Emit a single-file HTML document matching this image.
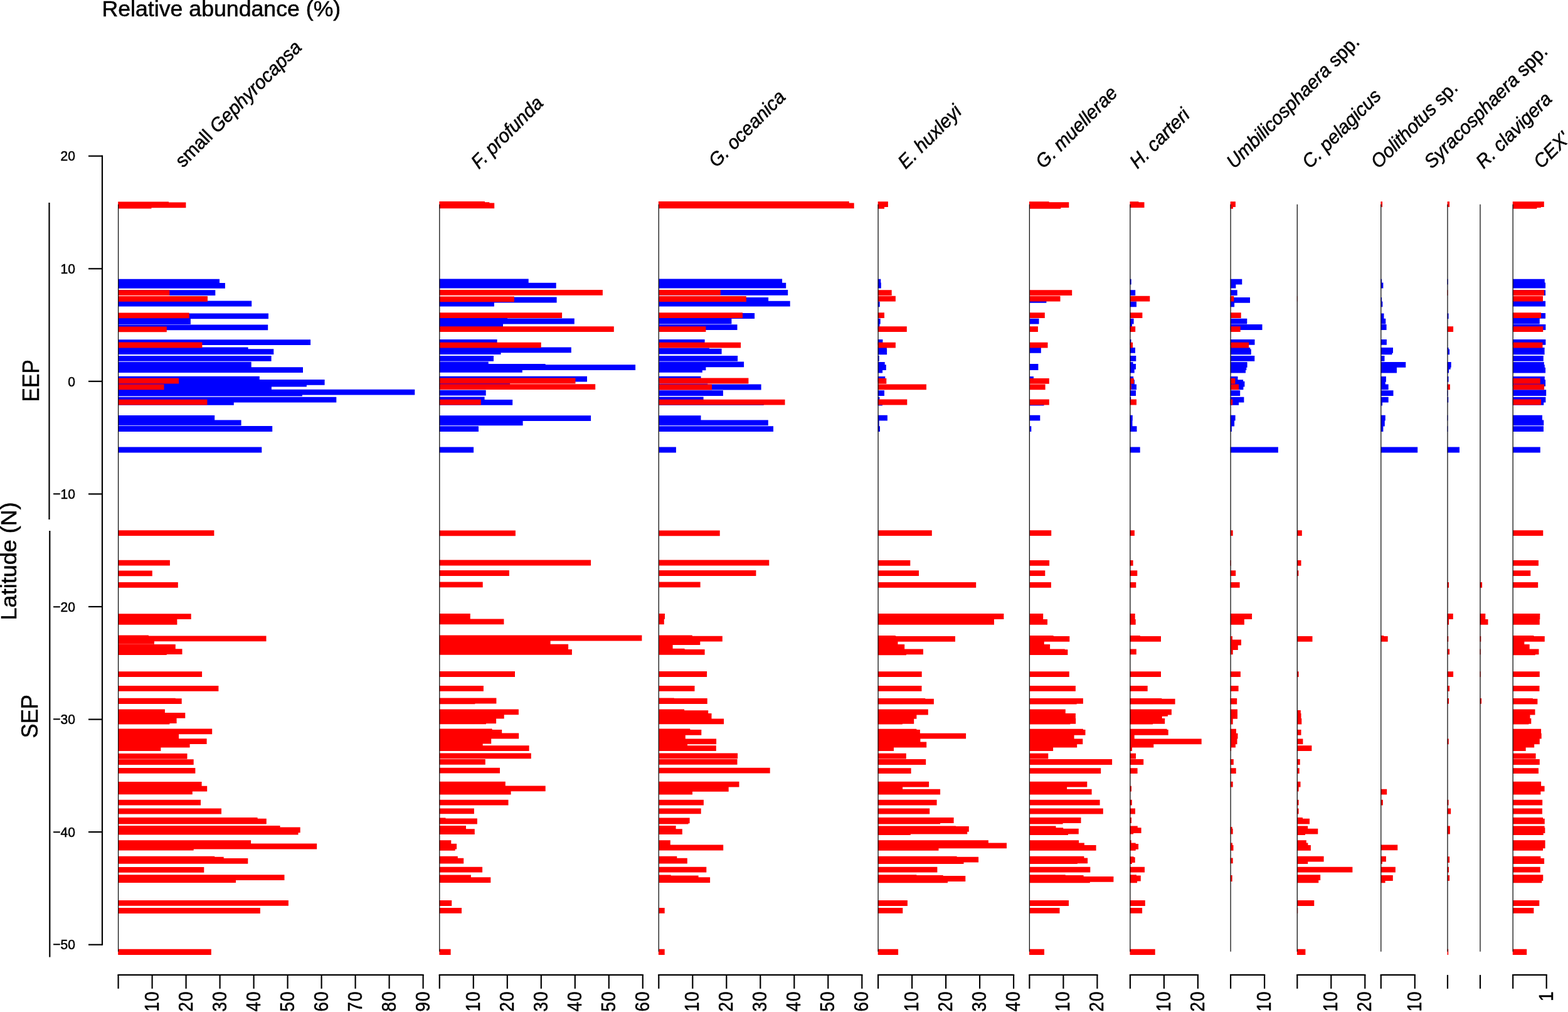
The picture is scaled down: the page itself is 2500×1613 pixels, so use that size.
<!DOCTYPE html>
<html lang="en"><head><meta charset="utf-8"><title>Relative abundance (%) by latitude</title>
<style>html,body{margin:0;padding:0;background:#fff;}body{width:2500px;height:1613px;overflow:hidden;}svg{display:block;}text{font-family:'Liberation Sans', 'DejaVu Sans', sans-serif;fill:#000;stroke:#000;stroke-width:0.55px;}.it{font-style:italic;}</style>
</head><body>
<svg width="2500" height="1613" viewBox="0 0 2500 1613">
<rect x="0" y="0" width="2500" height="1613" fill="#ffffff"/>
<text transform="translate(162.5 25.85) scale(1.008 1)" font-size="35.4">Relative abundance (%)</text>
<g stroke="#000" stroke-width="2.2" fill="none" stroke-linecap="butt">
<path d="M163.0 247.6 V1506.8"/>
<path d="M141.0 248.7 H163.0"/>
<path d="M141.0 428.3 H163.0"/>
<path d="M141.0 607.8 H163.0"/>
<path d="M141.0 787.4 H163.0"/>
<path d="M141.0 967.0 H163.0"/>
<path d="M141.0 1146.6 H163.0"/>
<path d="M141.0 1326.1 H163.0"/>
<path d="M141.0 1505.7 H163.0"/>
<path d="M78.5 323 V828"/>
<path d="M79.3 846 V1525.6"/>
</g>
<text transform="translate(119.9 256.4) scale(0.93 1)" font-size="22.6" text-anchor="end">20</text>
<text transform="translate(119.9 436.0) scale(0.93 1)" font-size="22.6" text-anchor="end">10</text>
<text transform="translate(119.9 615.5) scale(0.93 1)" font-size="22.6" text-anchor="end">0</text>
<text transform="translate(119.9 795.1) scale(0.93 1)" font-size="22.6" text-anchor="end">−10</text>
<text transform="translate(119.9 974.7) scale(0.93 1)" font-size="22.6" text-anchor="end">−20</text>
<text transform="translate(119.9 1154.3) scale(0.93 1)" font-size="22.6" text-anchor="end">−30</text>
<text transform="translate(119.9 1333.8) scale(0.93 1)" font-size="22.6" text-anchor="end">−40</text>
<text transform="translate(119.9 1513.4) scale(0.93 1)" font-size="22.6" text-anchor="end">−50</text>
<text transform="translate(25.8 894.3) rotate(-90) scale(1.03 1)" font-size="35" text-anchor="middle">Latitude (N)</text>
<text transform="translate(62.1 606.8) rotate(-90) scale(0.908 1)" font-size="37" text-anchor="middle">EEP</text>
<text transform="translate(59.8 1141.8) rotate(-90) scale(0.937 1)" font-size="37" text-anchor="middle">SEP</text>
<path fill="#0000ff" d="M188.2 444.8h161.8v8.8h-161.8zM188.2 451.0h170.7v8.8h-170.7zM188.2 462.2h155.1v8.8h-155.1zM188.2 479.6h213.0v8.8h-213.0zM188.2 499.5h239.8v8.8h-239.8zM188.2 508.1h115.7v8.8h-115.7zM188.2 517.4h239.0v8.8h-239.0zM188.2 541.3h306.9v8.8h-306.9zM188.2 553.4h207.4v8.8h-207.4zM188.2 556.3h248.1v8.8h-248.1zM188.2 567.0h244.4v8.8h-244.4zM188.2 576.7h212.5v8.8h-212.5zM188.2 585.3h294.8v8.8h-294.8zM188.2 599.8h225.6v8.8h-225.6zM188.2 604.9h329.4v8.8h-329.4zM188.2 607.8h300.7v8.8h-300.7zM188.2 612.4h244.7v8.8h-244.7zM188.2 620.7h473.1v8.8h-473.1zM188.2 622.8h293.7v8.8h-293.7zM188.2 632.7h348.1v8.8h-348.1zM188.2 637.0h184.6v8.8h-184.6zM188.2 662.0h154.0v8.8h-154.0zM188.2 669.5h196.4v8.8h-196.4zM188.2 679.1h246.0v8.8h-246.0zM188.2 712.6h229.1v8.8h-229.1z"/>
<path fill="#0000ff" d="M700.4 444.6h142.3v8.8h-142.3zM700.4 450.7h186.3v8.8h-186.3zM700.4 473.6h187.2v8.8h-187.2zM700.4 479.8h87.5v8.8h-87.5zM700.4 507.0h108.6v8.8h-108.6zM700.4 507.6h215.4v8.8h-215.4zM700.4 516.4h101.6v8.8h-101.6zM700.4 541.1h92.2v8.8h-92.2zM700.4 553.4h210.4v8.8h-210.4zM700.4 556.3h98.1v8.8h-98.1zM700.4 566.9h86.6v8.8h-86.6zM700.4 576.5h78.4v8.8h-78.4zM700.4 580.1h169.3v8.8h-169.3zM700.4 581.2h312.7v8.8h-312.7zM700.4 585.0h132.4v8.8h-132.4zM700.4 599.7h235.6v8.8h-235.6zM700.4 611.1h112.7v8.8h-112.7zM700.4 621.7h74.3v8.8h-74.3zM700.4 632.6h72.2v8.8h-72.2zM700.4 637.0h116.8v8.8h-116.8zM700.4 662.2h241.7v8.8h-241.7zM700.4 669.5h133.2v8.8h-133.2zM700.4 679.2h62.6v8.8h-62.6zM700.4 712.6h54.7v8.8h-54.7z"/>
<path fill="#0000ff" d="M1049.9 444.6h197.2v8.8h-197.2zM1049.9 450.7h203.3v8.8h-203.3zM1049.9 461.9h206.3v8.8h-206.3zM1049.9 473.9h175.2v8.8h-175.2zM1049.9 479.8h209.8v8.8h-209.8zM1049.9 499.1h153.2v8.8h-153.2zM1049.9 507.6h116.5v8.8h-116.5zM1049.9 517.3h125.6v8.8h-125.6zM1049.9 541.1h73.7v8.8h-73.7zM1049.9 554.5h81.0v8.8h-81.0zM1049.9 555.7h100.7v8.8h-100.7zM1049.9 566.9h126.2v8.8h-126.2zM1049.9 576.5h136.2v8.8h-136.2zM1049.9 581.5h75.5v8.8h-75.5zM1049.9 585.0h69.9v8.8h-69.9zM1049.9 599.7h67.6v8.8h-67.6zM1049.9 611.4h78.4v8.8h-78.4zM1049.9 612.6h163.7v8.8h-163.7zM1049.9 622.3h103.0v8.8h-103.0zM1049.9 632.6h71.7v8.8h-71.7zM1049.9 637.2h167.8v8.8h-167.8zM1049.9 662.2h67.6v8.8h-67.6zM1049.9 669.5h174.9v8.8h-174.9zM1049.9 679.2h183.1v8.8h-183.1zM1049.9 712.6h28.0v8.8h-28.0z"/>
<path fill="#0000ff" d="M1399.7 444.7h4.6v8.8h-4.6zM1399.7 450.6h5.1v8.8h-5.1zM1399.7 480.5h3.0v8.8h-3.0zM1399.7 507.8h4.0v8.8h-4.0zM1399.7 516.6h2.7v8.8h-2.7zM1399.7 541.0h7.7v8.8h-7.7zM1399.7 554.0h14.2v8.8h-14.2zM1399.7 556.4h14.4v8.8h-14.4zM1399.7 567.0h2.0v8.8h-2.0zM1399.7 576.9h11.0v8.8h-11.0zM1399.7 581.3h13.1v8.8h-13.1zM1399.7 585.7h7.4v8.8h-7.4zM1399.7 600.0h11.6v8.8h-11.6zM1399.7 622.3h10.3v8.8h-10.3zM1399.7 632.7h2.7v8.8h-2.7zM1399.7 637.7h7.2v8.8h-7.2zM1399.7 661.8h15.2v8.8h-15.2zM1399.7 670.6h2.0v8.8h-2.0zM1399.7 679.2h3.3v8.8h-3.3z"/>
<path fill="#0000ff" d="M1641.0 474.0h27.4v8.8h-27.4zM1641.0 507.8h15.5v8.8h-15.5zM1641.0 554.0h18.8v8.8h-18.8zM1641.0 580.0h14.4v8.8h-14.4zM1641.0 581.3h14.4v8.8h-14.4zM1641.0 600.0h6.9v8.8h-6.9zM1641.0 637.7h23.5v8.8h-23.5zM1641.0 661.8h17.3v8.8h-17.3zM1641.0 679.2h3.3v8.8h-3.3z"/>
<path fill="#0000ff" d="M1801.5 444.7h2.2v8.8h-2.2zM1801.5 462.3h8.7v8.8h-8.7zM1801.5 480.5h10.5v8.8h-10.5zM1801.5 507.8h6.1v8.8h-6.1zM1801.5 516.6h3.5v8.8h-3.5zM1801.5 541.0h2.0v8.8h-2.0zM1801.5 554.0h8.5v8.8h-8.5zM1801.5 567.0h9.8v8.8h-9.8zM1801.5 576.9h5.1v8.8h-5.1zM1801.5 580.0h9.5v8.8h-9.5zM1801.5 585.7h7.2v8.8h-7.2zM1801.5 600.0h5.6v8.8h-5.6zM1801.5 605.2h7.4v8.8h-7.4zM1801.5 612.5h10.5v8.8h-10.5zM1801.5 622.3h9.5v8.8h-9.5zM1801.5 632.7h1.7v8.8h-1.7zM1801.5 661.8h4.3v8.8h-4.3zM1801.5 670.6h4.0v8.8h-4.0zM1801.5 679.2h11.0v8.8h-11.0zM1801.5 712.6h16.2v8.8h-16.2z"/>
<path fill="#0000ff" d="M1961.7 444.7h18.6v8.8h-18.6zM1961.7 450.6h8.7v8.8h-8.7zM1961.7 462.3h11.0v8.8h-11.0zM1961.7 474.0h31.3v8.8h-31.3zM1961.7 480.5h6.4v8.8h-6.4zM1961.7 507.8h26.6v8.8h-26.6zM1961.7 517.1h50.8v8.8h-50.8zM1961.7 541.0h38.8v8.8h-38.8zM1961.7 554.0h31.6v8.8h-31.6zM1961.7 556.4h33.1v8.8h-33.1zM1961.7 567.0h38.6v8.8h-38.6zM1961.7 576.9h26.9v8.8h-26.9zM1961.7 581.3h25.6v8.8h-25.6zM1961.7 585.7h24.3v8.8h-24.3zM1961.7 600.0h11.8v8.8h-11.8zM1961.7 605.2h20.4v8.8h-20.4zM1961.7 607.8h22.7v8.8h-22.7zM1961.7 612.5h20.7v8.8h-20.7zM1961.7 622.3h15.5v8.8h-15.5zM1961.7 632.7h21.7v8.8h-21.7zM1961.7 636.9h13.4v8.8h-13.4zM1961.7 661.8h7.9v8.8h-7.9zM1961.7 670.6h6.4v8.8h-6.4zM1961.7 679.2h2.2v8.8h-2.2zM1961.7 712.6h76.2v8.8h-76.2z"/>
<path fill="#0000ff" d="M2201.4 444.7h1.7v8.8h-1.7zM2201.4 450.6h4.0v8.8h-4.0zM2201.4 474.0h1.7v8.8h-1.7zM2201.4 480.5h3.0v8.8h-3.0zM2201.4 499.5h5.1v8.8h-5.1zM2201.4 507.8h7.9v8.8h-7.9zM2201.4 517.1h9.2v8.8h-9.2zM2201.4 541.0h9.5v8.8h-9.5zM2201.4 554.0h19.6v8.8h-19.6zM2201.4 556.4h18.1v8.8h-18.1zM2201.4 567.0h6.1v8.8h-6.1zM2201.4 576.9h39.9v8.8h-39.9zM2201.4 585.7h25.6v8.8h-25.6zM2201.4 600.0h8.5v8.8h-8.5zM2201.4 605.2h7.4v8.8h-7.4zM2201.4 612.5h12.3v8.8h-12.3zM2201.4 622.3h20.1v8.8h-20.1zM2201.4 632.7h12.3v8.8h-12.3zM2201.4 637.7h2.7v8.8h-2.7zM2201.4 661.8h7.4v8.8h-7.4zM2201.4 670.6h6.4v8.8h-6.4zM2201.4 679.2h4.0v8.8h-4.0zM2201.4 712.6h58.8v8.8h-58.8z"/>
<path fill="#0000ff" d="M2307.6 444.7h1.2v8.8h-1.2zM2307.6 499.5h2.0v8.8h-2.0zM2307.6 554.0h2.0v8.8h-2.0zM2307.6 556.4h3.5v8.8h-3.5zM2307.6 576.9h6.1v8.8h-6.1zM2307.6 580.0h5.1v8.8h-5.1zM2307.6 585.7h2.5v8.8h-2.5zM2307.6 600.0h2.0v8.8h-2.0zM2307.6 622.3h0.9v8.8h-0.9zM2307.6 632.7h1.7v8.8h-1.7zM2307.6 661.8h0.9v8.8h-0.9zM2307.6 679.2h0.9v8.8h-0.9zM2307.6 712.6h19.4v8.8h-19.4z"/>
<path fill="#0000ff" d="M2411.8 444.7h51.0v8.8h-51.0zM2411.8 450.6h52.3v8.8h-52.3zM2411.8 462.3h52.3v8.8h-52.3zM2411.8 479.7h52.3v8.8h-52.3zM2411.8 499.0h52.3v8.8h-52.3zM2411.8 507.8h43.0v8.8h-43.0zM2411.8 517.1h52.6v8.8h-52.6zM2411.8 541.0h52.6v8.8h-52.6zM2411.8 554.0h50.8v8.8h-50.8zM2411.8 556.4h50.8v8.8h-50.8zM2411.8 567.0h49.0v8.8h-49.0zM2411.8 576.9h50.0v8.8h-50.0zM2411.8 581.3h51.0v8.8h-51.0zM2411.8 585.7h52.3v8.8h-52.3zM2411.8 600.0h51.0v8.8h-51.0zM2411.8 605.2h52.3v8.8h-52.3zM2411.8 607.0h52.3v8.8h-52.3zM2411.8 621.3h53.4v8.8h-53.4zM2411.8 622.3h53.4v8.8h-53.4zM2411.8 632.7h52.6v8.8h-52.6zM2411.8 636.9h49.5v8.8h-49.5zM2411.8 661.8h47.2v8.8h-47.2zM2411.8 669.4h49.5v8.8h-49.5zM2411.8 679.2h49.2v8.8h-49.2zM2411.8 712.6h44.0v8.8h-44.0z"/>
<path fill="#ff0000" d="M188.2 321.4h80.8v8.8h-80.8zM188.2 322.5h108.2v8.8h-108.2zM188.2 323.6h53.2v8.8h-53.2zM188.2 462.2h82.2v8.8h-82.2zM188.2 471.9h142.8v8.8h-142.8zM188.2 498.4h113.5v8.8h-113.5zM188.2 520.4h77.6v8.8h-77.6zM188.2 545.6h134.2v8.8h-134.2zM188.2 602.7h96.9v8.8h-96.9zM188.2 612.4h73.3v8.8h-73.3zM188.2 636.8h142.2v8.8h-142.2zM188.2 845.3h153.2v8.8h-153.2zM188.2 892.8h82.7v8.8h-82.7zM188.2 909.4h54.6v8.8h-54.6zM188.2 927.9h95.6v8.8h-95.6zM188.2 978.3h116.5v8.8h-116.5zM188.2 982.6h94.2v8.8h-94.2zM188.2 986.9h94.2v8.8h-94.2zM188.2 1012.6h48.7v8.8h-48.7zM188.2 1013.4h236.3v8.8h-236.3zM188.2 1018.0h57.8v8.8h-57.8zM188.2 1027.1h91.6v8.8h-91.6zM188.2 1034.3h102.3v8.8h-102.3zM188.2 1035.1h77.6v8.8h-77.6zM188.2 1070.3h133.9v8.8h-133.9zM188.2 1092.9h160.2v8.8h-160.2zM188.2 1112.7h91.6v8.8h-91.6zM188.2 1113.2h101.5v8.8h-101.5zM188.2 1130.4h74.7v8.8h-74.7zM188.2 1136.0h107.1v8.8h-107.1zM188.2 1144.3h93.4v8.8h-93.4zM188.2 1145.7h82.2v8.8h-82.2zM188.2 1161.5h150.0v8.8h-150.0zM188.2 1169.8h96.9v8.8h-96.9zM188.2 1177.3h141.4v8.8h-141.4zM188.2 1182.7h114.4v8.8h-114.4zM188.2 1188.3h68.2v8.8h-68.2zM188.2 1200.9h110.3v8.8h-110.3zM188.2 1210.3h120.5v8.8h-120.5zM188.2 1224.0h123.2v8.8h-123.2zM188.2 1246.0h133.4v8.8h-133.4zM188.2 1252.7h142.0v8.8h-142.0zM188.2 1257.5h118.6v8.8h-118.6zM188.2 1274.7h131.8v8.8h-131.8zM188.2 1288.6h164.8v8.8h-164.8zM188.2 1303.1h222.4v8.8h-222.4zM188.2 1304.7h236.6v8.8h-236.6zM188.2 1315.9h258.3v8.8h-258.3zM188.2 1318.4h290.5v8.8h-290.5zM188.2 1321.6h287.3v8.8h-287.3zM188.2 1339.3h211.9v8.8h-211.9zM188.2 1344.6h317.0v8.8h-317.0zM188.2 1346.8h120.5v8.8h-120.5zM188.2 1364.7h154.0v8.8h-154.0zM188.2 1365.8h168.5v8.8h-168.5zM188.2 1368.0h207.1v8.8h-207.1zM188.2 1381.9h137.1v8.8h-137.1zM188.2 1394.2h265.3v8.8h-265.3zM188.2 1398.3h187.8v8.8h-187.8zM188.2 1435.0h271.7v8.8h-271.7zM188.2 1447.1h226.7v8.8h-226.7zM188.2 1512.7h148.6v9.3h-148.6z"/>
<path fill="#ff0000" d="M700.4 321.1h72.5v8.8h-72.5zM700.4 322.3h79.9v8.8h-79.9zM700.4 323.5h87.8v8.8h-87.8zM700.4 461.9h260.5v8.8h-260.5zM700.4 472.4h119.5v8.8h-119.5zM700.4 498.2h195.7v8.8h-195.7zM700.4 520.2h278.4v8.8h-278.4zM700.4 545.7h162.3v8.8h-162.3zM700.4 602.6h217.1v8.8h-217.1zM700.4 612.3h248.8v8.8h-248.8zM700.4 636.7h66.4v8.8h-66.4zM700.4 845.4h121.5v8.8h-121.5zM700.4 892.6h241.7v8.8h-241.7zM700.4 909.1h111.5v8.8h-111.5zM700.4 927.5h69.3v8.8h-69.3zM700.4 978.0h49.4v8.8h-49.4zM700.4 986.5h103.0v8.8h-103.0zM700.4 1012.6h323.0v8.8h-323.0zM700.4 1017.9h177.2v8.8h-177.2zM700.4 1022.3h177.2v8.8h-177.2zM700.4 1026.7h205.7v8.8h-205.7zM700.4 1034.9h211.5v8.8h-211.5zM700.4 1070.1h120.6v8.8h-120.6zM700.4 1092.9h70.5v8.8h-70.5zM700.4 1112.6h91.0v8.8h-91.0zM700.4 1113.4h57.0v8.8h-57.0zM700.4 1130.4h126.5v8.8h-126.5zM700.4 1136.6h103.3v8.8h-103.3zM700.4 1144.5h90.7v8.8h-90.7zM700.4 1145.4h74.6v8.8h-74.6zM700.4 1161.5h84.3v8.8h-84.3zM700.4 1163.0h99.8v8.8h-99.8zM700.4 1168.6h126.8v8.8h-126.8zM700.4 1176.8h82.8v8.8h-82.8zM700.4 1179.7h69.3v8.8h-69.3zM700.4 1188.2h143.2v8.8h-143.2zM700.4 1200.5h146.4v8.8h-146.4zM700.4 1209.9h73.4v8.8h-73.4zM700.4 1223.7h96.6v8.8h-96.6zM700.4 1245.7h105.4v8.8h-105.4zM700.4 1252.4h169.3v8.8h-169.3zM700.4 1257.7h114.2v8.8h-114.2zM700.4 1274.7h110.1v8.8h-110.1zM700.4 1288.5h55.5v8.8h-55.5zM700.4 1303.5h10.1v8.8h-10.1zM700.4 1304.6h60.5v8.8h-60.5zM700.4 1316.1h42.6v8.8h-42.6zM700.4 1321.3h56.4v8.8h-56.4zM700.4 1339.2h18.9v8.8h-18.9zM700.4 1344.8h27.7v8.8h-27.7zM700.4 1346.9h25.3v8.8h-25.3zM700.4 1364.8h29.4v8.8h-29.4zM700.4 1367.7h38.8v8.8h-38.8zM700.4 1381.8h68.7v8.8h-68.7zM700.4 1394.4h50.5v8.8h-50.5zM700.4 1398.2h81.9v8.8h-81.9zM700.4 1435.1h19.8v8.8h-19.8zM700.4 1446.9h35.6v8.8h-35.6zM700.4 1512.7h18.2v9.3h-18.2z"/>
<path fill="#ff0000" d="M1049.9 321.1h303.9v8.8h-303.9zM1049.9 323.5h311.8v8.8h-311.8zM1049.9 461.9h98.9v8.8h-98.9zM1049.9 472.1h140.0v8.8h-140.0zM1049.9 498.2h134.1v8.8h-134.1zM1049.9 520.2h75.5v8.8h-75.5zM1049.9 545.7h131.2v8.8h-131.2zM1049.9 602.6h143.5v8.8h-143.5zM1049.9 612.6h85.2v8.8h-85.2zM1049.9 636.7h201.6v8.8h-201.6zM1049.9 845.4h97.8v8.8h-97.8zM1049.9 892.6h176.4v8.8h-176.4zM1049.9 909.1h155.5v8.8h-155.5zM1049.9 927.5h66.7v8.8h-66.7zM1049.9 978.0h10.1v8.8h-10.1zM1049.9 986.5h8.9v8.8h-8.9zM1049.9 1012.6h53.8v8.8h-53.8zM1049.9 1013.8h101.9v8.8h-101.9zM1049.9 1019.3h66.4v8.8h-66.4zM1049.9 1025.8h22.7v8.8h-22.7zM1049.9 1033.7h41.7v8.8h-41.7zM1049.9 1034.9h73.7v8.8h-73.7zM1049.9 1070.1h77.2v8.8h-77.2zM1049.9 1092.9h57.6v8.8h-57.6zM1049.9 1112.6h25.0v8.8h-25.0zM1049.9 1113.1h77.8v8.8h-77.8zM1049.9 1130.4h41.2v8.8h-41.2zM1049.9 1132.2h79.3v8.8h-79.3zM1049.9 1136.9h84.6v8.8h-84.6zM1049.9 1145.4h104.2v8.8h-104.2zM1049.9 1161.5h50.5v8.8h-50.5zM1049.9 1163.0h68.4v8.8h-68.4zM1049.9 1171.5h42.9v8.8h-42.9zM1049.9 1177.4h92.2v8.8h-92.2zM1049.9 1185.6h46.1v8.8h-46.1zM1049.9 1188.2h91.9v8.8h-91.9zM1049.9 1200.5h126.2v8.8h-126.2zM1049.9 1209.9h125.6v8.8h-125.6zM1049.9 1223.7h177.8v8.8h-177.8zM1049.9 1245.7h128.6v8.8h-128.6zM1049.9 1253.0h111.8v8.8h-111.8zM1049.9 1257.7h54.1v8.8h-54.1zM1049.9 1274.7h72.0v8.8h-72.0zM1049.9 1288.5h67.8v8.8h-67.8zM1049.9 1303.5h49.7v8.8h-49.7zM1049.9 1304.6h47.6v8.8h-47.6zM1049.9 1316.1h27.7v8.8h-27.7zM1049.9 1321.3h37.9v8.8h-37.9zM1049.9 1339.2h18.9v8.8h-18.9zM1049.9 1346.6h103.3v8.8h-103.3zM1049.9 1364.8h29.4v8.8h-29.4zM1049.9 1367.7h45.9v8.8h-45.9zM1049.9 1381.8h76.4v8.8h-76.4zM1049.9 1394.4h19.8v8.8h-19.8zM1049.9 1395.5h63.7v8.8h-63.7zM1049.9 1398.2h82.2v8.8h-82.2zM1049.9 1446.9h9.8v8.8h-9.8zM1049.9 1512.7h9.8v9.3h-9.8z"/>
<path fill="#ff0000" d="M1399.7 321.3h16.2v8.8h-16.2zM1399.7 323.9h10.3v8.8h-10.3zM1399.7 462.3h22.0v8.8h-22.0zM1399.7 471.7h28.2v8.8h-28.2zM1399.7 498.2h10.3v8.8h-10.3zM1399.7 520.3h46.1v8.8h-46.1zM1399.7 545.7h28.2v8.8h-28.2zM1399.7 602.9h13.6v8.8h-13.6zM1399.7 612.5h77.3v8.8h-77.3zM1399.7 636.6h46.6v8.8h-46.6zM1399.7 845.3h86.1v8.8h-86.1zM1399.7 892.9h51.6v8.8h-51.6zM1399.7 909.2h65.3v8.8h-65.3zM1399.7 927.9h156.5v8.8h-156.5zM1399.7 978.1h200.7v8.8h-200.7zM1399.7 986.9h185.3v8.8h-185.3zM1399.7 1013.1h28.2v8.8h-28.2zM1399.7 1013.9h123.3v8.8h-123.3zM1399.7 1018.6h31.8v8.8h-31.8zM1399.7 1027.1h42.5v8.8h-42.5zM1399.7 1034.4h72.3v8.8h-72.3zM1399.7 1035.5h45.3v8.8h-45.3zM1399.7 1070.3h70.0v8.8h-70.0zM1399.7 1093.0h69.8v8.8h-69.8zM1399.7 1113.0h75.5v8.8h-75.5zM1399.7 1113.8h89.2v8.8h-89.2zM1399.7 1130.6h80.1v8.8h-80.1zM1399.7 1136.9h61.7v8.8h-61.7zM1399.7 1144.9h57.5v8.8h-57.5zM1399.7 1145.7h39.1v8.8h-39.1zM1399.7 1161.8h61.7v8.8h-61.7zM1399.7 1162.9h67.2v8.8h-67.2zM1399.7 1168.8h140.4v8.8h-140.4zM1399.7 1177.4h67.7v8.8h-67.7zM1399.7 1182.6h77.5v8.8h-77.5zM1399.7 1188.3h25.3v8.8h-25.3zM1399.7 1200.8h45.1v8.8h-45.1zM1399.7 1210.1h76.5v8.8h-76.5zM1399.7 1224.2h52.9v8.8h-52.9zM1399.7 1245.7h81.4v8.8h-81.4zM1399.7 1251.4h39.4v8.8h-39.4zM1399.7 1257.7h99.4v8.8h-99.4zM1399.7 1274.8h93.9v8.8h-93.9zM1399.7 1288.6h82.5v8.8h-82.5zM1399.7 1303.1h120.9v8.8h-120.9zM1399.7 1304.7h99.4v8.8h-99.4zM1399.7 1316.4h124.3v8.8h-124.3zM1399.7 1316.9h145.1v8.8h-145.1zM1399.7 1320.8h142.5v8.8h-142.5zM1399.7 1322.1h52.1v8.8h-52.1zM1399.7 1339.2h176.2v8.8h-176.2zM1399.7 1343.4h205.3v8.8h-205.3zM1399.7 1347.0h96.8v8.8h-96.8zM1399.7 1364.7h125.9v8.8h-125.9zM1399.7 1365.7h160.4v8.8h-160.4zM1399.7 1368.1h136.8v8.8h-136.8zM1399.7 1381.8h94.7v8.8h-94.7zM1399.7 1394.3h61.7v8.8h-61.7zM1399.7 1395.1h104.0v8.8h-104.0zM1399.7 1396.1h139.6v8.8h-139.6zM1399.7 1398.4h111.3v8.8h-111.3zM1399.7 1435.1h47.2v8.8h-47.2zM1399.7 1447.0h39.6v8.8h-39.6zM1399.7 1512.7h32.4v9.3h-32.4z"/>
<path fill="#ff0000" d="M1641.0 321.3h31.6v8.8h-31.6zM1641.0 322.3h63.3v8.8h-63.3zM1641.0 323.9h50.3v8.8h-50.3zM1641.0 462.3h68.2v8.8h-68.2zM1641.0 471.7h49.5v8.8h-49.5zM1641.0 498.2h24.8v8.8h-24.8zM1641.0 520.3h13.9v8.8h-13.9zM1641.0 545.7h29.5v8.8h-29.5zM1641.0 602.9h31.8v8.8h-31.8zM1641.0 612.5h25.6v8.8h-25.6zM1641.0 636.6h31.8v8.8h-31.8zM1641.0 845.3h35.2v8.8h-35.2zM1641.0 892.9h32.1v8.8h-32.1zM1641.0 909.2h25.3v8.8h-25.3zM1641.0 927.9h34.9v8.8h-34.9zM1641.0 978.1h22.2v8.8h-22.2zM1641.0 986.9h29.0v8.8h-29.0zM1641.0 1012.9h38.6v8.8h-38.6zM1641.0 1013.9h64.3v8.8h-64.3zM1641.0 1018.6h23.8v8.8h-23.8zM1641.0 1027.1h33.1v8.8h-33.1zM1641.0 1034.4h56.8v8.8h-56.8zM1641.0 1035.2h61.4v8.8h-61.4zM1641.0 1070.3h63.8v8.8h-63.8zM1641.0 1093.0h73.9v8.8h-73.9zM1641.0 1113.0h85.9v8.8h-85.9zM1641.0 1113.8h75.7v8.8h-75.7zM1641.0 1130.6h57.8v8.8h-57.8zM1641.0 1136.9h73.9v8.8h-73.9zM1641.0 1144.9h74.2v8.8h-74.2zM1641.0 1145.7h65.3v8.8h-65.3zM1641.0 1161.8h85.9v8.8h-85.9zM1641.0 1162.9h89.5v8.8h-89.5zM1641.0 1168.8h71.6v8.8h-71.6zM1641.0 1177.4h85.3v8.8h-85.3zM1641.0 1182.6h76.2v8.8h-76.2zM1641.0 1188.3h38.1v8.8h-38.1zM1641.0 1200.8h30.3v8.8h-30.3zM1641.0 1210.1h132.1v8.8h-132.1zM1641.0 1224.2h114.2v8.8h-114.2zM1641.0 1245.7h92.3v8.8h-92.3zM1641.0 1251.4h60.1v8.8h-60.1zM1641.0 1257.7h99.6v8.8h-99.6zM1641.0 1274.8h112.6v8.8h-112.6zM1641.0 1288.6h117.8v8.8h-117.8zM1641.0 1303.1h82.5v8.8h-82.5zM1641.0 1304.7h53.6v8.8h-53.6zM1641.0 1316.4h42.5v8.8h-42.5zM1641.0 1319.2h54.2v8.8h-54.2zM1641.0 1320.8h78.8v8.8h-78.8zM1641.0 1322.1h62.0v8.8h-62.0zM1641.0 1339.2h79.1v8.8h-79.1zM1641.0 1343.4h87.9v8.8h-87.9zM1641.0 1347.0h106.6v8.8h-106.6zM1641.0 1364.7h87.4v8.8h-87.4zM1641.0 1367.5h93.1v8.8h-93.1zM1641.0 1368.1h76.8v8.8h-76.8zM1641.0 1381.8h97.3v8.8h-97.3zM1641.0 1394.3h57.8v8.8h-57.8zM1641.0 1395.1h86.6v8.8h-86.6zM1641.0 1396.9h134.4v8.8h-134.4zM1641.0 1398.4h96.8v8.8h-96.8zM1641.0 1435.1h63.0v8.8h-63.0zM1641.0 1447.0h48.5v8.8h-48.5zM1641.0 1512.7h24.0v9.3h-24.0z"/>
<path fill="#ff0000" d="M1801.5 321.3h13.9v8.8h-13.9zM1801.5 322.3h23.0v8.8h-23.0zM1801.5 471.7h31.8v8.8h-31.8zM1801.5 498.2h19.9v8.8h-19.9zM1801.5 520.3h8.7v8.8h-8.7zM1801.5 545.7h4.6v8.8h-4.6zM1801.5 602.9h6.4v8.8h-6.4zM1801.5 612.5h2.2v8.8h-2.2zM1801.5 636.6h10.5v8.8h-10.5zM1801.5 845.3h7.4v8.8h-7.4zM1801.5 892.9h5.1v8.8h-5.1zM1801.5 909.2h11.8v8.8h-11.8zM1801.5 927.9h9.8v8.8h-9.8zM1801.5 978.1h8.2v8.8h-8.2zM1801.5 986.9h9.2v8.8h-9.2zM1801.5 1013.1h16.5v8.8h-16.5zM1801.5 1013.9h49.5v8.8h-49.5zM1801.5 1034.4h10.3v8.8h-10.3zM1801.5 1070.3h49.5v8.8h-49.5zM1801.5 1093.0h28.2v8.8h-28.2zM1801.5 1113.0h50.8v8.8h-50.8zM1801.5 1113.8h72.1v8.8h-72.1zM1801.5 1130.6h66.4v8.8h-66.4zM1801.5 1133.0h60.4v8.8h-60.4zM1801.5 1136.9h51.3v8.8h-51.3zM1801.5 1144.9h55.7v8.8h-55.7zM1801.5 1145.7h36.5v8.8h-36.5zM1801.5 1161.8h59.1v8.8h-59.1zM1801.5 1162.9h61.2v8.8h-61.2zM1801.5 1168.8h7.2v8.8h-7.2zM1801.5 1177.4h114.2v8.8h-114.2zM1801.5 1182.6h37.8v8.8h-37.8zM1801.5 1188.3h3.5v8.8h-3.5zM1801.5 1200.8h9.5v8.8h-9.5zM1801.5 1210.1h21.7v8.8h-21.7zM1801.5 1224.2h12.1v8.8h-12.1zM1801.5 1252.7h2.5v8.8h-2.5zM1801.5 1274.8h3.3v8.8h-3.3zM1801.5 1288.6h8.5v8.8h-8.5zM1801.5 1303.1h2.5v8.8h-2.5zM1801.5 1316.4h12.3v8.8h-12.3zM1801.5 1319.2h18.1v8.8h-18.1zM1801.5 1320.8h5.6v8.8h-5.6zM1801.5 1339.2h2.2v8.8h-2.2zM1801.5 1343.4h9.2v8.8h-9.2zM1801.5 1344.9h13.6v8.8h-13.6zM1801.5 1347.0h9.2v8.8h-9.2zM1801.5 1365.2h6.1v8.8h-6.1zM1801.5 1366.2h8.2v8.8h-8.2zM1801.5 1368.1h3.5v8.8h-3.5zM1801.5 1381.8h23.5v8.8h-23.5zM1801.5 1394.3h10.5v8.8h-10.5zM1801.5 1395.6h17.3v8.8h-17.3zM1801.5 1398.4h11.6v8.8h-11.6zM1801.5 1435.1h24.3v8.8h-24.3zM1801.5 1447.0h19.6v8.8h-19.6zM1801.5 1512.7h40.2v9.3h-40.2z"/>
<path fill="#ff0000" d="M1961.7 321.3h8.2v8.8h-8.2zM1961.7 323.9h4.3v8.8h-4.3zM1961.7 471.7h5.6v8.8h-5.6zM1961.7 498.2h17.0v8.8h-17.0zM1961.7 520.3h16.0v8.8h-16.0zM1961.7 545.7h29.5v8.8h-29.5zM1961.7 602.9h7.7v8.8h-7.7zM1961.7 612.5h13.4v8.8h-13.4zM1961.7 636.6h3.5v8.8h-3.5zM1961.7 845.3h4.0v8.8h-4.0zM1961.7 892.9h1.2v8.8h-1.2zM1961.7 909.2h8.5v8.8h-8.5zM1961.7 927.9h14.9v8.8h-14.9zM1961.7 978.1h34.4v8.8h-34.4zM1961.7 986.9h22.2v8.8h-22.2zM1961.7 1013.9h3.3v8.8h-3.3zM1961.7 1019.6h17.3v8.8h-17.3zM1961.7 1027.1h12.1v8.8h-12.1zM1961.7 1034.4h4.0v8.8h-4.0zM1961.7 1070.3h16.2v8.8h-16.2zM1961.7 1093.0h12.9v8.8h-12.9zM1961.7 1113.0h10.5v8.8h-10.5zM1961.7 1113.8h10.5v8.8h-10.5zM1961.7 1130.6h11.3v8.8h-11.3zM1961.7 1136.9h11.3v8.8h-11.3zM1961.7 1145.7h4.0v8.8h-4.0zM1961.7 1161.8h9.2v8.8h-9.2zM1961.7 1168.8h11.8v8.8h-11.8zM1961.7 1177.4h10.8v8.8h-10.8zM1961.7 1182.6h8.2v8.8h-8.2zM1961.7 1188.3h1.4v8.8h-1.4zM1961.7 1210.1h5.1v8.8h-5.1zM1961.7 1224.2h9.0v8.8h-9.0zM1961.7 1245.7h4.0v8.8h-4.0zM1961.7 1317.9h3.0v8.8h-3.0zM1961.7 1320.8h4.0v8.8h-4.0zM1961.7 1343.4h3.3v8.8h-3.3zM1961.7 1347.0h4.8v8.8h-4.8zM1961.7 1367.5h4.0v8.8h-4.0zM1961.7 1395.1h3.0v8.8h-3.0zM1961.7 1396.1h3.0v8.8h-3.0z"/>
<path fill="#ff0000" d="M2067.9 471.7h1.2v8.8h-1.2zM2067.9 845.3h7.9v8.8h-7.9zM2067.9 892.9h6.6v8.8h-6.6zM2067.9 909.2h2.5v8.8h-2.5zM2067.9 1013.9h24.6v8.8h-24.6zM2067.9 1070.3h2.7v8.8h-2.7zM2067.9 1131.9h5.9v8.8h-5.9zM2067.9 1136.9h6.6v8.8h-6.6zM2067.9 1144.9h7.4v8.8h-7.4zM2067.9 1145.7h7.4v8.8h-7.4zM2067.9 1162.9h6.6v8.8h-6.6zM2067.9 1177.4h9.5v8.8h-9.5zM2067.9 1188.3h23.5v8.8h-23.5zM2067.9 1210.1h4.8v8.8h-4.8zM2067.9 1224.2h3.8v8.8h-3.8zM2067.9 1245.7h5.6v8.8h-5.6zM2067.9 1252.7h2.7v8.8h-2.7zM2067.9 1274.8h2.7v8.8h-2.7zM2067.9 1288.6h2.7v8.8h-2.7zM2067.9 1303.1h9.0v8.8h-9.0zM2067.9 1304.7h20.1v8.8h-20.1zM2067.9 1316.4h17.3v8.8h-17.3zM2067.9 1320.8h33.4v8.8h-33.4zM2067.9 1322.1h13.1v8.8h-13.1zM2067.9 1339.2h14.9v8.8h-14.9zM2067.9 1343.4h17.5v8.8h-17.5zM2067.9 1347.0h22.0v8.8h-22.0zM2067.9 1364.7h42.7v8.8h-42.7zM2067.9 1368.1h17.3v8.8h-17.3zM2067.9 1381.8h88.5v8.8h-88.5zM2067.9 1394.3h37.3v8.8h-37.3zM2067.9 1398.4h34.4v8.8h-34.4zM2067.9 1435.1h27.4v8.8h-27.4zM2067.9 1447.0h1.4v8.8h-1.4zM2067.9 1512.7h13.5v9.3h-13.5z"/>
<path fill="#ff0000" d="M2201.4 321.3h2.7v8.8h-2.7zM2201.4 1012.9h4.8v8.8h-4.8zM2201.4 1013.9h11.3v8.8h-11.3zM2201.4 1257.7h9.8v8.8h-9.8zM2201.4 1274.8h3.5v8.8h-3.5zM2201.4 1346.5h26.9v8.8h-26.9zM2201.4 1364.7h8.5v8.8h-8.5zM2201.4 1368.1h2.5v8.8h-2.5zM2201.4 1381.8h23.5v8.8h-23.5zM2201.4 1395.1h19.4v8.8h-19.4zM2201.4 1398.4h7.2v8.8h-7.2z"/>
<path fill="#ff0000" d="M2307.6 321.3h3.5v8.8h-3.5zM2307.6 462.3h0.9v8.8h-0.9zM2307.6 520.3h9.5v8.8h-9.5zM2307.6 612.5h4.3v8.8h-4.3zM2307.6 927.9h2.5v8.8h-2.5zM2307.6 978.1h9.2v8.8h-9.2zM2307.6 986.9h2.5v8.8h-2.5zM2307.6 1013.9h1.7v8.8h-1.7zM2307.6 1034.4h3.5v8.8h-3.5zM2307.6 1070.3h9.5v8.8h-9.5zM2307.6 1093.0h3.5v8.8h-3.5zM2307.6 1113.0h2.5v8.8h-2.5zM2307.6 1177.4h2.2v8.8h-2.2zM2307.6 1274.8h2.0v8.8h-2.0zM2307.6 1288.6h5.6v8.8h-5.6zM2307.6 1316.4h4.3v8.8h-4.3zM2307.6 1320.8h4.3v8.8h-4.3zM2307.6 1365.2h3.5v8.8h-3.5zM2307.6 1366.2h3.5v8.8h-3.5zM2307.6 1381.8h2.5v8.8h-2.5zM2307.6 1395.1h3.5v8.8h-3.5zM2307.6 1512.7h1.6v9.3h-1.6z"/>
<path fill="#ff0000" d="M2359.6 927.9h3.5v8.8h-3.5zM2359.6 978.1h8.7v8.8h-8.7zM2359.6 986.9h12.9v8.8h-12.9zM2359.6 1013.9h1.7v8.8h-1.7zM2359.6 1034.4h1.2v8.8h-1.2zM2359.6 1070.3h1.2v8.8h-1.2zM2359.6 1113.0h2.5v8.8h-2.5z"/>
<path fill="#ff0000" d="M2411.8 321.3h50.0v8.8h-50.0zM2411.8 322.3h45.1v8.8h-45.1zM2411.8 323.9h38.6v8.8h-38.6zM2411.8 462.3h50.3v8.8h-50.3zM2411.8 471.7h48.2v8.8h-48.2zM2411.8 498.2h45.3v8.8h-45.3zM2411.8 520.3h48.5v8.8h-48.5zM2411.8 545.7h47.7v8.8h-47.7zM2411.8 602.9h44.0v8.8h-44.0zM2411.8 612.5h50.3v8.8h-50.3zM2411.8 636.6h45.3v8.8h-45.3zM2411.8 845.3h48.5v8.8h-48.5zM2411.8 892.9h41.2v8.8h-41.2zM2411.8 909.2h28.5v8.8h-28.5zM2411.8 927.9h40.4v8.8h-40.4zM2411.8 978.1h43.5v8.8h-43.5zM2411.8 986.9h43.0v8.8h-43.0zM2411.8 1012.9h33.6v8.8h-33.6zM2411.8 1013.9h51.0v8.8h-51.0zM2411.8 1018.6h18.6v8.8h-18.6zM2411.8 1027.1h26.9v8.8h-26.9zM2411.8 1034.4h41.7v8.8h-41.7zM2411.8 1035.5h36.0v8.8h-36.0zM2411.8 1070.3h43.0v8.8h-43.0zM2411.8 1093.0h42.7v8.8h-42.7zM2411.8 1113.0h32.1v8.8h-32.1zM2411.8 1113.8h39.6v8.8h-39.6zM2411.8 1130.6h35.7v8.8h-35.7zM2411.8 1136.9h27.7v8.8h-27.7zM2411.8 1144.9h29.5v8.8h-29.5zM2411.8 1145.7h25.6v8.8h-25.6zM2411.8 1161.8h45.3v8.8h-45.3zM2411.8 1168.8h45.9v8.8h-45.9zM2411.8 1177.4h43.0v8.8h-43.0zM2411.8 1182.6h34.4v8.8h-34.4zM2411.8 1188.3h20.9v8.8h-20.9zM2411.8 1200.8h36.8v8.8h-36.8zM2411.8 1210.1h43.0v8.8h-43.0zM2411.8 1224.2h41.2v8.8h-41.2zM2411.8 1245.7h45.3v8.8h-45.3zM2411.8 1252.7h50.8v8.8h-50.8zM2411.8 1257.7h44.6v8.8h-44.6zM2411.8 1274.8h47.4v8.8h-47.4zM2411.8 1288.6h47.2v8.8h-47.2zM2411.8 1303.1h48.2v8.8h-48.2zM2411.8 1304.7h51.0v8.8h-51.0zM2411.8 1316.4h50.8v8.8h-50.8zM2411.8 1319.2h51.6v8.8h-51.6zM2411.8 1322.1h49.0v8.8h-49.0zM2411.8 1339.2h51.8v8.8h-51.8zM2411.8 1343.4h51.8v8.8h-51.8zM2411.8 1347.0h48.2v8.8h-48.2zM2411.8 1364.7h44.6v8.8h-44.6zM2411.8 1368.1h50.3v8.8h-50.3zM2411.8 1381.8h44.0v8.8h-44.0zM2411.8 1394.3h48.5v8.8h-48.5zM2411.8 1395.3h48.5v8.8h-48.5zM2411.8 1398.4h46.4v8.8h-46.4zM2411.8 1435.1h42.5v8.8h-42.5zM2411.8 1447.0h33.6v8.8h-33.6zM2411.8 1512.7h22.4v9.3h-22.4z"/>
<g stroke="#111" stroke-width="1.3" fill="none">
<path d="M188.6 325.7 V1516.7"/>
<path d="M700.8 325.7 V1516.7"/>
<path d="M1050.3 325.7 V1516.7"/>
<path d="M1400.1 325.7 V1516.7"/>
<path d="M1641.4 325.7 V1516.7"/>
<path d="M1801.9 325.7 V1516.7"/>
<path d="M1962.1 325.7 V1516.7"/>
<path d="M2068.3 325.7 V1516.7"/>
<path d="M2201.8 325.7 V1516.7"/>
<path d="M2308.0 325.7 V1516.7"/>
<path d="M2360.0 325.7 V1516.7"/>
<path d="M2412.2 325.7 V1516.7"/>
</g>
<g stroke="#000" stroke-width="2.2" fill="none">
<path d="M187.5 1553.9 H675.7"/>
<path d="M188.6 1553.9 V1575.8"/>
<path d="M242.6 1553.9 V1575.8"/>
<path d="M296.6 1553.9 V1575.8"/>
<path d="M350.6 1553.9 V1575.8"/>
<path d="M404.6 1553.9 V1575.8"/>
<path d="M458.6 1553.9 V1575.8"/>
<path d="M512.6 1553.9 V1575.8"/>
<path d="M566.6 1553.9 V1575.8"/>
<path d="M620.6 1553.9 V1575.8"/>
<path d="M674.6 1553.9 V1575.8"/>
<path d="M699.7 1553.9 H1025.9"/>
<path d="M700.8 1553.9 V1575.8"/>
<path d="M754.8 1553.9 V1575.8"/>
<path d="M808.8 1553.9 V1575.8"/>
<path d="M862.8 1553.9 V1575.8"/>
<path d="M916.8 1553.9 V1575.8"/>
<path d="M970.8 1553.9 V1575.8"/>
<path d="M1024.8 1553.9 V1575.8"/>
<path d="M1049.2 1553.9 H1375.4"/>
<path d="M1050.3 1553.9 V1575.8"/>
<path d="M1104.3 1553.9 V1575.8"/>
<path d="M1158.3 1553.9 V1575.8"/>
<path d="M1212.3 1553.9 V1575.8"/>
<path d="M1266.3 1553.9 V1575.8"/>
<path d="M1320.3 1553.9 V1575.8"/>
<path d="M1374.3 1553.9 V1575.8"/>
<path d="M1399.0 1553.9 H1617.2"/>
<path d="M1400.1 1553.9 V1575.8"/>
<path d="M1454.1 1553.9 V1575.8"/>
<path d="M1508.1 1553.9 V1575.8"/>
<path d="M1562.1 1553.9 V1575.8"/>
<path d="M1616.1 1553.9 V1575.8"/>
<path d="M1640.3 1553.9 H1750.5"/>
<path d="M1641.4 1553.9 V1575.8"/>
<path d="M1695.4 1553.9 V1575.8"/>
<path d="M1749.4 1553.9 V1575.8"/>
<path d="M1800.8 1553.9 H1911.0"/>
<path d="M1801.9 1553.9 V1575.8"/>
<path d="M1855.9 1553.9 V1575.8"/>
<path d="M1909.9 1553.9 V1575.8"/>
<path d="M1961.0 1553.9 H2017.2"/>
<path d="M1962.1 1553.9 V1575.8"/>
<path d="M2016.1 1553.9 V1575.8"/>
<path d="M2067.2 1553.9 H2177.4"/>
<path d="M2068.3 1553.9 V1575.8"/>
<path d="M2122.3 1553.9 V1575.8"/>
<path d="M2176.3 1553.9 V1575.8"/>
<path d="M2200.7 1553.9 H2256.9"/>
<path d="M2201.8 1553.9 V1575.8"/>
<path d="M2255.8 1553.9 V1575.8"/>
<path d="M2308.0 1553.9 V1575.8"/>
<path d="M2360.0 1553.9 V1575.8"/>
<path d="M2411.1 1553.9 H2466.8"/>
<path d="M2412.2 1553.9 V1575.8"/>
<path d="M2465.7 1553.9 V1575.8"/>
</g>
<text transform="translate(252.5 1579.5) rotate(-90) scale(0.915 1)" font-size="30.55" letter-spacing="1.1" text-anchor="end">10</text>
<text transform="translate(306.5 1579.5) rotate(-90) scale(0.915 1)" font-size="30.55" letter-spacing="1.1" text-anchor="end">20</text>
<text transform="translate(360.5 1579.5) rotate(-90) scale(0.915 1)" font-size="30.55" letter-spacing="1.1" text-anchor="end">30</text>
<text transform="translate(414.5 1579.5) rotate(-90) scale(0.915 1)" font-size="30.55" letter-spacing="1.1" text-anchor="end">40</text>
<text transform="translate(468.5 1579.5) rotate(-90) scale(0.915 1)" font-size="30.55" letter-spacing="1.1" text-anchor="end">50</text>
<text transform="translate(522.5 1579.5) rotate(-90) scale(0.915 1)" font-size="30.55" letter-spacing="1.1" text-anchor="end">60</text>
<text transform="translate(576.5 1579.5) rotate(-90) scale(0.915 1)" font-size="30.55" letter-spacing="1.1" text-anchor="end">70</text>
<text transform="translate(630.5 1579.5) rotate(-90) scale(0.915 1)" font-size="30.55" letter-spacing="1.1" text-anchor="end">80</text>
<text transform="translate(684.5 1579.5) rotate(-90) scale(0.915 1)" font-size="30.55" letter-spacing="1.1" text-anchor="end">90</text>
<text transform="translate(764.7 1579.5) rotate(-90) scale(0.915 1)" font-size="30.55" letter-spacing="1.1" text-anchor="end">10</text>
<text transform="translate(818.7 1579.5) rotate(-90) scale(0.915 1)" font-size="30.55" letter-spacing="1.1" text-anchor="end">20</text>
<text transform="translate(872.7 1579.5) rotate(-90) scale(0.915 1)" font-size="30.55" letter-spacing="1.1" text-anchor="end">30</text>
<text transform="translate(926.7 1579.5) rotate(-90) scale(0.915 1)" font-size="30.55" letter-spacing="1.1" text-anchor="end">40</text>
<text transform="translate(980.7 1579.5) rotate(-90) scale(0.915 1)" font-size="30.55" letter-spacing="1.1" text-anchor="end">50</text>
<text transform="translate(1034.7 1579.5) rotate(-90) scale(0.915 1)" font-size="30.55" letter-spacing="1.1" text-anchor="end">60</text>
<text transform="translate(1114.2 1579.5) rotate(-90) scale(0.915 1)" font-size="30.55" letter-spacing="1.1" text-anchor="end">10</text>
<text transform="translate(1168.2 1579.5) rotate(-90) scale(0.915 1)" font-size="30.55" letter-spacing="1.1" text-anchor="end">20</text>
<text transform="translate(1222.2 1579.5) rotate(-90) scale(0.915 1)" font-size="30.55" letter-spacing="1.1" text-anchor="end">30</text>
<text transform="translate(1276.2 1579.5) rotate(-90) scale(0.915 1)" font-size="30.55" letter-spacing="1.1" text-anchor="end">40</text>
<text transform="translate(1330.2 1579.5) rotate(-90) scale(0.915 1)" font-size="30.55" letter-spacing="1.1" text-anchor="end">50</text>
<text transform="translate(1384.2 1579.5) rotate(-90) scale(0.915 1)" font-size="30.55" letter-spacing="1.1" text-anchor="end">60</text>
<text transform="translate(1464.0 1579.5) rotate(-90) scale(0.915 1)" font-size="30.55" letter-spacing="1.1" text-anchor="end">10</text>
<text transform="translate(1518.0 1579.5) rotate(-90) scale(0.915 1)" font-size="30.55" letter-spacing="1.1" text-anchor="end">20</text>
<text transform="translate(1572.0 1579.5) rotate(-90) scale(0.915 1)" font-size="30.55" letter-spacing="1.1" text-anchor="end">30</text>
<text transform="translate(1626.0 1579.5) rotate(-90) scale(0.915 1)" font-size="30.55" letter-spacing="1.1" text-anchor="end">40</text>
<text transform="translate(1705.3 1579.5) rotate(-90) scale(0.915 1)" font-size="30.55" letter-spacing="1.1" text-anchor="end">10</text>
<text transform="translate(1759.3 1579.5) rotate(-90) scale(0.915 1)" font-size="30.55" letter-spacing="1.1" text-anchor="end">20</text>
<text transform="translate(1865.8 1579.5) rotate(-90) scale(0.915 1)" font-size="30.55" letter-spacing="1.1" text-anchor="end">10</text>
<text transform="translate(1919.8 1579.5) rotate(-90) scale(0.915 1)" font-size="30.55" letter-spacing="1.1" text-anchor="end">20</text>
<text transform="translate(2026.0 1579.5) rotate(-90) scale(0.915 1)" font-size="30.55" letter-spacing="1.1" text-anchor="end">10</text>
<text transform="translate(2132.2 1579.5) rotate(-90) scale(0.915 1)" font-size="30.55" letter-spacing="1.1" text-anchor="end">10</text>
<text transform="translate(2186.2 1579.5) rotate(-90) scale(0.915 1)" font-size="30.55" letter-spacing="1.1" text-anchor="end">20</text>
<text transform="translate(2265.7 1579.5) rotate(-90) scale(0.915 1)" font-size="30.55" letter-spacing="1.1" text-anchor="end">10</text>
<text transform="translate(2475.6 1579.5) rotate(-90) scale(0.915 1)" font-size="30.55" letter-spacing="1.1" text-anchor="end">1</text>
<text transform="translate(291.8 268.2) rotate(-45) scale(0.968 1)" font-size="30.6"><tspan>small </tspan><tspan class="it">Gephyrocapsa</tspan></text>
<text transform="translate(763.4 270.4) rotate(-45) scale(0.968 1)" font-size="30.6"><tspan class="it">F. profunda</tspan></text>
<text transform="translate(1142.3 268.2) rotate(-45) scale(0.968 1)" font-size="30.6"><tspan class="it">G. oceanica</tspan></text>
<text transform="translate(1444.0 270.4) rotate(-45) scale(0.968 1)" font-size="30.6"><tspan class="it">E. huxleyi</tspan></text>
<text transform="translate(1663.6 270.1) rotate(-45) scale(0.968 1)" font-size="30.6"><tspan class="it">G. muellerae</tspan></text>
<text transform="translate(1813.6 270.1) rotate(-45) scale(0.968 1)" font-size="30.6"><tspan class="it">H. carteri</tspan></text>
<text transform="translate(1968.0 270.1) rotate(-45) scale(0.968 1)" font-size="30.6"><tspan class="it">Umbilicosphaera</tspan><tspan> spp.</tspan></text>
<text transform="translate(2088.6 270.1) rotate(-45) scale(0.968 1)" font-size="30.6"><tspan class="it">C. pelagicus</tspan></text>
<text transform="translate(2198.0 270.1) rotate(-45) scale(0.968 1)" font-size="30.6"><tspan class="it">Oolithotus</tspan><tspan> sp.</tspan></text>
<text transform="translate(2283.0 270.1) rotate(-45) scale(0.968 1)" font-size="30.6"><tspan class="it">Syracosphaera</tspan><tspan> spp.</tspan></text>
<text transform="translate(2365.6 270.1) rotate(-45) scale(0.968 1)" font-size="30.6"><tspan class="it">R. clavigera</tspan></text>
<text transform="translate(2457.6 270.1) rotate(-45) scale(0.968 1)" font-size="30.6"><tspan class="it">CEX'</tspan></text>
</svg></body></html>
